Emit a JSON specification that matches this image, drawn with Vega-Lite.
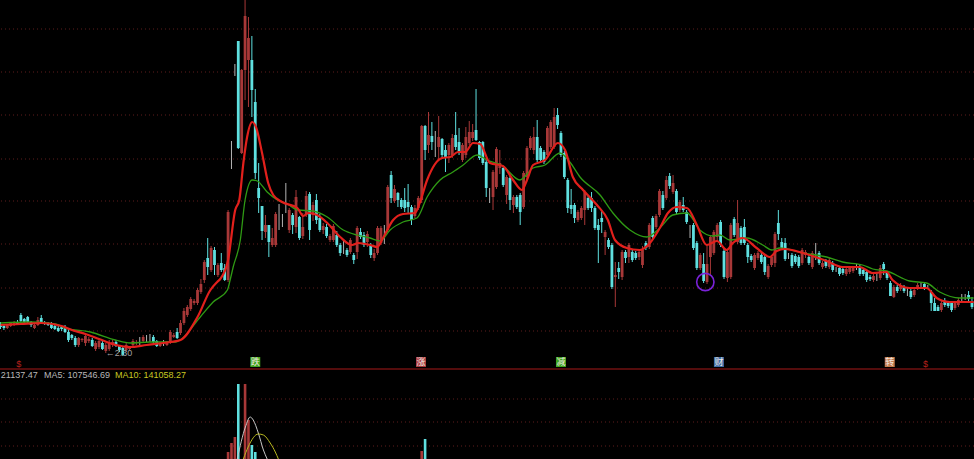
{"$schema":"https://vega.github.io/schema/vega-lite/v6.json","width":974,"height":459,"padding":0,"autosize":{"type":"none"},"background":"#000000","config":{"view":{"stroke":null}},
"datasets":{
"candles":[
{"i":0,"o":135,"c":132,"h":137,"l":130},{"i":1,"o":133,"c":131,"h":135,"l":129},{"i":2,"o":131,"c":134,"h":135,"l":130},{"i":3,"o":133,"c":136,"h":137,"l":132},{"i":4,"o":134,"c":137,"h":138,"l":133},{"i":5,"o":137,"c":135,"h":139,"l":134},{"i":6,"o":144,"c":138,"h":146,"l":137},{"i":7,"o":140,"c":137,"h":141,"l":136},{"i":8,"o":142,"c":137,"h":143,"l":136},{"i":9,"o":137,"c":134,"h":138,"l":132},
{"i":10,"o":131,"c":134,"h":135,"l":130},{"i":11,"o":134,"c":139,"h":142,"l":133},{"i":12,"o":141,"c":136,"h":144,"l":135},{"i":13,"o":137,"c":135,"h":138,"l":134},{"i":14,"o":136,"c":134,"h":137,"l":133},{"i":15,"o":135,"c":131,"h":137,"l":130},{"i":16,"o":133,"c":130,"h":134,"l":129},{"i":17,"o":131,"c":128,"h":133,"l":127},{"i":18,"o":132,"c":130,"h":133,"l":128},{"i":19,"o":132,"c":127,"h":134,"l":126},
{"i":20,"o":127,"c":119,"h":130,"l":117},{"i":21,"o":124,"c":121,"h":125,"l":119},{"i":22,"o":121,"c":114,"h":123,"l":112},{"i":23,"o":114,"c":121,"h":122,"l":112},{"i":24,"o":119,"c":120,"h":121,"l":117},{"i":25,"o":116,"c":123,"h":126,"l":113},{"i":26,"o":118,"c":120,"h":122,"l":116},{"i":27,"o":119,"c":113,"h":121,"l":112},{"i":28,"o":110,"c":116,"h":118,"l":108},{"i":29,"o":112,"c":118,"h":120,"l":110},
{"i":30,"o":116,"c":110,"h":118,"l":109},{"i":31,"o":108,"c":114,"h":116,"l":106},{"i":32,"o":110,"c":116,"h":119,"l":108},{"i":33,"o":114,"c":117,"h":119,"l":112},{"i":34,"o":117,"c":113,"h":119,"l":112},{"i":35,"o":113,"c":109,"h":114,"l":107},{"i":36,"o":111,"c":104,"h":112,"l":103},{"i":37,"o":109,"c":114,"h":116,"l":107},{"i":38,"o":110,"c":112,"h":113,"l":109},{"i":39,"o":114,"c":118,"h":120,"l":112},
{"i":40,"o":116,"c":117,"h":119,"l":114},{"i":41,"o":116,"c":116,"h":122,"l":114},{"i":42,"o":118,"c":122,"h":124,"l":116},{"i":43,"o":120,"c":120,"h":124,"l":117},{"i":44,"o":120,"c":120,"h":125,"l":117},{"i":45,"o":122,"c":117,"h":124,"l":116},{"i":46,"o":118,"c":113,"h":119,"l":112},{"i":47,"o":113,"c":116,"h":117,"l":112},{"i":48,"o":115,"c":115,"h":119,"l":113},{"i":49,"o":114,"c":118,"h":118,"l":113},
{"i":50,"o":117,"c":127,"h":129,"l":115},{"i":51,"o":122,"c":124,"h":126,"l":121},{"i":52,"o":127,"c":121,"h":131,"l":120},{"i":53,"o":126,"c":136,"h":139,"l":124},{"i":54,"o":136,"c":148,"h":151,"l":134},{"i":55,"o":144,"c":152,"h":154,"l":142},{"i":56,"o":150,"c":160,"h":162,"l":148},{"i":57,"o":156,"c":158,"h":160,"l":154},{"i":58,"o":156,"c":169,"h":171,"l":154},{"i":59,"o":167,"c":175,"h":180,"l":165},
{"i":60,"o":179,"c":197,"h":199,"l":176},{"i":61,"o":201,"c":192,"h":221,"l":184},{"i":62,"o":189,"c":211,"h":213,"l":187},{"i":63,"o":209,"c":194,"h":212,"l":184},{"i":64,"o":184,"c":194,"h":196,"l":182},{"i":65,"o":196,"c":189,"h":206,"l":187},{"i":66,"o":191,"c":179,"h":195,"l":178},{"i":67,"o":179,"c":247,"h":249,"l":177},{"i":68,"o":300,"c":300,"h":318,"l":290},{"i":69,"o":390,"c":390,"h":395,"l":383},
{"i":70,"o":418,"c":311,"h":418,"l":310},{"i":71,"o":306,"c":389,"h":390,"l":305},{"i":72,"o":389,"c":443,"h":459,"l":359},{"i":73,"o":399,"c":421,"h":442,"l":352},{"i":74,"o":399,"c":369,"h":423,"l":342},{"i":75,"o":357,"c":286,"h":370,"l":280},{"i":76,"o":271,"c":261,"h":296,"l":246},{"i":77,"o":253,"c":228,"h":253,"l":219},{"i":78,"o":227,"c":234,"h":244,"l":221},{"i":79,"o":234,"c":217,"h":234,"l":202},
{"i":80,"o":214,"c":221,"h":231,"l":212},{"i":81,"o":214,"c":245,"h":247,"l":212},{"i":82,"o":237,"c":237,"h":255,"l":229},{"i":83,"o":237,"c":237,"h":245,"l":232},{"i":84,"o":265,"c":265,"h":276,"l":246},{"i":85,"o":229,"c":249,"h":251,"l":226},{"i":86,"o":244,"c":234,"h":246,"l":225},{"i":87,"o":232,"c":262,"h":269,"l":226},{"i":88,"o":242,"c":221,"h":243,"l":219},{"i":89,"o":223,"c":232,"h":246,"l":220},
{"i":90,"o":244,"c":263,"h":268,"l":242},{"i":91,"o":265,"c":229,"h":267,"l":219},{"i":92,"o":244,"c":254,"h":257,"l":238},{"i":93,"o":259,"c":239,"h":265,"l":235},{"i":94,"o":241,"c":229,"h":245,"l":227},{"i":95,"o":229,"c":233,"h":236,"l":225},{"i":96,"o":232,"c":223,"h":235,"l":221},{"i":97,"o":219,"c":223,"h":225,"l":217},{"i":98,"o":219,"c":233,"h":235,"l":217},{"i":99,"o":224,"c":214,"h":228,"l":212},
{"i":100,"o":214,"c":206,"h":216,"l":203},{"i":101,"o":213,"c":213,"h":219,"l":205},{"i":102,"o":209,"c":204,"h":211,"l":202},{"i":103,"o":207,"c":219,"h":221,"l":205},{"i":104,"o":204,"c":199,"h":206,"l":195},{"i":105,"o":207,"c":231,"h":233,"l":200},{"i":106,"o":227,"c":222,"h":231,"l":220},{"i":107,"o":224,"c":214,"h":227,"l":212},{"i":108,"o":217,"c":225,"h":228,"l":212},{"i":109,"o":214,"c":204,"h":216,"l":201},
{"i":110,"o":201,"c":206,"h":210,"l":198},{"i":111,"o":206,"c":231,"h":233,"l":204},{"i":112,"o":216,"c":231,"h":233,"l":214},{"i":113,"o":228,"c":228,"h":234,"l":215},{"i":114,"o":229,"c":272,"h":274,"l":227},{"i":115,"o":284,"c":261,"h":288,"l":256},{"i":116,"o":258,"c":270,"h":274,"l":256},{"i":117,"o":266,"c":259,"h":267,"l":252},{"i":118,"o":259,"c":252,"h":261,"l":250},{"i":119,"o":259,"c":251,"h":271,"l":247},
{"i":120,"o":257,"c":252,"h":275,"l":246},{"i":121,"o":252,"c":239,"h":254,"l":234},{"i":122,"o":243,"c":251,"h":254,"l":241},{"i":123,"o":251,"c":261,"h":263,"l":249},{"i":124,"o":259,"c":333,"h":334,"l":256},{"i":125,"o":333,"c":309,"h":334,"l":299},{"i":126,"o":314,"c":324,"h":347,"l":306},{"i":127,"o":323,"c":317,"h":337,"l":309},{"i":128,"o":325,"c":325,"h":328,"l":302},{"i":129,"o":312,"c":322,"h":343,"l":299},
{"i":130,"o":320,"c":304,"h":321,"l":301},{"i":131,"o":309,"c":301,"h":314,"l":287},{"i":132,"o":304,"c":314,"h":316,"l":296},{"i":133,"o":304,"c":321,"h":325,"l":301},{"i":134,"o":324,"c":312,"h":347,"l":309},{"i":135,"o":317,"c":307,"h":331,"l":304},{"i":136,"o":299,"c":314,"h":316,"l":297},{"i":137,"o":304,"c":322,"h":332,"l":301},{"i":138,"o":316,"c":327,"h":338,"l":314},{"i":139,"o":321,"c":327,"h":335,"l":318},
{"i":140,"o":329,"c":319,"h":370,"l":318},{"i":141,"o":317,"c":301,"h":318,"l":299},{"i":142,"o":317,"c":296,"h":318,"l":294},{"i":143,"o":297,"c":271,"h":299,"l":262},{"i":144,"o":264,"c":264,"h":271,"l":256},{"i":145,"o":262,"c":287,"h":289,"l":249},{"i":146,"o":272,"c":310,"h":312,"l":270},{"i":147,"o":291,"c":296,"h":309,"l":285},{"i":148,"o":291,"c":274,"h":293,"l":272},{"i":149,"o":264,"c":282,"h":284,"l":255},
{"i":150,"o":281,"c":259,"h":283,"l":249},{"i":151,"o":254,"c":262,"h":264,"l":246},{"i":152,"o":262,"c":252,"h":264,"l":250},{"i":153,"o":264,"c":247,"h":266,"l":234},{"i":154,"o":252,"c":286,"h":288,"l":250},{"i":155,"o":282,"c":311,"h":313,"l":280},{"i":156,"o":311,"c":321,"h":323,"l":309},{"i":157,"o":309,"c":322,"h":332,"l":305},{"i":158,"o":322,"c":299,"h":339,"l":297},{"i":159,"o":311,"c":299,"h":313,"l":297},
{"i":160,"o":307,"c":297,"h":309,"l":295},{"i":161,"o":304,"c":331,"h":333,"l":302},{"i":162,"o":312,"c":337,"h":339,"l":310},{"i":163,"o":312,"c":342,"h":351,"l":310},{"i":164,"o":344,"c":334,"h":351,"l":330},{"i":165,"o":326,"c":304,"h":328,"l":302},{"i":166,"o":306,"c":282,"h":308,"l":280},{"i":167,"o":279,"c":251,"h":281,"l":246},{"i":168,"o":254,"c":250,"h":270,"l":245},{"i":169,"o":254,"c":241,"h":256,"l":236},
{"i":170,"o":239,"c":247,"h":249,"l":237},{"i":171,"o":241,"c":251,"h":253,"l":239},{"i":172,"o":249,"c":267,"h":269,"l":234},{"i":173,"o":261,"c":251,"h":263,"l":249},{"i":174,"o":261,"c":251,"h":267,"l":247},{"i":175,"o":251,"c":231,"h":253,"l":229},{"i":176,"o":234,"c":229,"h":240,"l":196},{"i":177,"o":241,"c":237,"h":248,"l":226},{"i":178,"o":222,"c":227,"h":229,"l":204},{"i":179,"o":219,"c":212,"h":221,"l":210},
{"i":180,"o":214,"c":172,"h":216,"l":170},{"i":181,"o":182,"c":184,"h":197,"l":152},{"i":182,"o":191,"c":187,"h":197,"l":180},{"i":183,"o":182,"c":207,"h":209,"l":179},{"i":184,"o":207,"c":201,"h":209,"l":196},{"i":185,"o":202,"c":214,"h":216,"l":196},{"i":186,"o":207,"c":199,"h":209,"l":197},{"i":187,"o":206,"c":201,"h":208,"l":199},{"i":188,"o":202,"c":207,"h":209,"l":199},{"i":189,"o":194,"c":209,"h":213,"l":191},
{"i":190,"o":216,"c":211,"h":218,"l":209},{"i":191,"o":212,"c":234,"h":236,"l":210},{"i":192,"o":241,"c":222,"h":243,"l":220},{"i":193,"o":232,"c":243,"h":245,"l":230},{"i":194,"o":244,"c":268,"h":270,"l":242},{"i":195,"o":264,"c":251,"h":268,"l":249},{"i":196,"o":261,"c":279,"h":283,"l":259},{"i":197,"o":283,"c":273,"h":286,"l":270},{"i":198,"o":267,"c":276,"h":284,"l":265},{"i":199,"o":268,"c":247,"h":270,"l":245},
{"i":200,"o":249,"c":257,"h":259,"l":247},{"i":201,"o":254,"c":249,"h":262,"l":247},{"i":202,"o":247,"c":237,"h":249,"l":235},{"i":203,"o":227,"c":227,"h":234,"l":221},{"i":204,"o":234,"c":211,"h":236,"l":209},{"i":205,"o":216,"c":191,"h":218,"l":189},{"i":206,"o":191,"c":204,"h":206,"l":189},{"i":207,"o":195,"c":178,"h":206,"l":176},{"i":208,"o":177,"c":195,"h":214,"l":175},{"i":209,"o":202,"c":222,"h":224,"l":184},
{"i":210,"o":206,"c":227,"h":229,"l":204},{"i":211,"o":222,"c":234,"h":236,"l":218},{"i":212,"o":237,"c":214,"h":239,"l":212},{"i":213,"o":208,"c":182,"h":210,"l":180},{"i":214,"o":181,"c":207,"h":209,"l":177},{"i":215,"o":182,"c":234,"h":236,"l":180},{"i":216,"o":240,"c":224,"h":242,"l":222},{"i":217,"o":217,"c":236,"h":259,"l":215},{"i":218,"o":231,"c":216,"h":233,"l":214},{"i":219,"o":232,"c":216,"h":240,"l":214},
{"i":220,"o":214,"c":202,"h":216,"l":196},{"i":221,"o":203,"c":199,"h":205,"l":197},{"i":222,"o":191,"c":204,"h":206,"l":189},{"i":223,"o":201,"c":206,"h":208,"l":199},{"i":224,"o":204,"c":197,"h":206,"l":195},{"i":225,"o":202,"c":187,"h":204,"l":184},{"i":226,"o":182,"c":193,"h":195,"l":180},{"i":227,"o":194,"c":202,"h":204,"l":192},{"i":228,"o":196,"c":225,"h":227,"l":192},{"i":229,"o":236,"c":225,"h":249,"l":219},
{"i":230,"o":217,"c":211,"h":221,"l":209},{"i":231,"o":216,"c":200,"h":221,"l":198},{"i":232,"o":204,"c":204,"h":206,"l":200},{"i":233,"o":204,"c":193,"h":206,"l":191},{"i":234,"o":203,"c":197,"h":205,"l":195},{"i":235,"o":202,"c":193,"h":204,"l":191},{"i":236,"o":196,"c":209,"h":211,"l":194},{"i":237,"o":204,"c":207,"h":209,"l":201},{"i":238,"o":202,"c":196,"h":204,"l":194},{"i":239,"o":192,"c":206,"h":208,"l":190},
{"i":240,"o":208,"c":208,"h":216,"l":199},{"i":241,"o":206,"c":196,"h":208,"l":194},{"i":242,"o":192,"c":196,"h":198,"l":190},{"i":243,"o":198,"c":193,"h":200,"l":191},{"i":244,"o":192,"c":199,"h":201,"l":190},{"i":245,"o":196,"c":189,"h":198,"l":187},{"i":246,"o":189,"c":189,"h":192,"l":187},{"i":247,"o":191,"c":185,"h":193,"l":183},{"i":248,"o":190,"c":186,"h":192,"l":184},{"i":249,"o":185,"c":190,"h":192,"l":183},
{"i":250,"o":187,"c":191,"h":193,"l":185},{"i":251,"o":188,"c":191,"h":193,"l":186},{"i":252,"o":192,"c":192,"h":195,"l":189},{"i":253,"o":192,"c":185,"h":194,"l":183},{"i":254,"o":189,"c":185,"h":191,"l":183},{"i":255,"o":187,"c":179,"h":189,"l":177},{"i":256,"o":182,"c":180,"h":184,"l":178},{"i":257,"o":179,"c":183,"h":185,"l":177},{"i":258,"o":182,"c":182,"h":186,"l":178},{"i":259,"o":181,"c":191,"h":194,"l":179},
{"i":260,"o":195,"c":190,"h":197,"l":184},{"i":261,"o":186,"c":181,"h":188,"l":179},{"i":262,"o":176,"c":163,"h":178,"l":163},{"i":263,"o":162,"c":172,"h":174,"l":161},{"i":264,"o":172,"c":168,"h":174,"l":166},{"i":265,"o":170,"c":174,"h":176,"l":168},{"i":266,"o":172,"c":168,"h":174,"l":166},{"i":267,"o":167,"c":167,"h":171,"l":163},{"i":268,"o":168,"c":162,"h":170,"l":160},{"i":269,"o":164,"c":169,"h":171,"l":162},
{"i":270,"o":171,"c":174,"h":176,"l":169},{"i":271,"o":174,"c":174,"h":177,"l":171},{"i":272,"o":175,"c":171,"h":177,"l":169},{"i":273,"o":172,"c":172,"h":174,"l":170},{"i":274,"o":167,"c":156,"h":169,"l":148},{"i":275,"o":156,"c":148,"h":161,"l":148},{"i":276,"o":152,"c":148,"h":154,"l":148},{"i":277,"o":149,"c":156,"h":158,"l":147},{"i":278,"o":157,"c":154,"h":161,"l":152},{"i":279,"o":156,"c":153,"h":158,"l":151},
{"i":280,"o":156,"c":149,"h":158,"l":147},{"i":281,"o":151,"c":156,"h":158,"l":149},{"i":282,"o":154,"c":159,"h":161,"l":152},{"i":283,"o":160,"c":160,"h":165,"l":157},{"i":284,"o":162,"c":162,"h":165,"l":159},{"i":285,"o":164,"c":160,"h":168,"l":158},{"i":286,"o":157,"c":152,"h":162,"l":150}
],
"ma5":[{"i":0,"v":134},{"i":6,"v":135},{"i":12,"v":136},{"i":18,"v":133},{"i":21,"v":129},{"i":25,"v":125},{"i":29,"v":120},{"i":34,"v":114},{"i":38,"v":112},{"i":43,"v":114},{"i":50,"v":117},{"i":53,"v":119},{"i":58,"v":142},{"i":61.8,"v":169},{"i":63.8,"v":177},{"i":64.7,"v":180},{"i":67,"v":199},{"i":69.1,"v":249},{"i":70.3,"v":259},{"i":71.5,"v":296},{"i":72.6,"v":322},{"i":74.1,"v":337},{"i":75.3,"v":331},{"i":77,"v":306},{"i":78.8,"v":276},{"i":80.3,"v":264},{"i":82.9,"v":257},{"i":87.4,"v":251},{"i":89.1,"v":243},{"i":90.6,"v":246},{"i":93.2,"v":244},{"i":96.2,"v":236},{"i":100,"v":222},{"i":103.5,"v":214},{"i":105.3,"v":216},{"i":108.8,"v":214},{"i":110.9,"v":212},{"i":112.6,"v":221},{"i":115.6,"v":239},{"i":118.5,"v":245},{"i":122,"v":246},{"i":123.5,"v":257},{"i":125.6,"v":279},{"i":130,"v":301},{"i":132.4,"v":302},{"i":134.7,"v":307},{"i":136.8,"v":307},{"i":139.1,"v":316},{"i":141.2,"v":315},{"i":144.1,"v":296},{"i":147.9,"v":293},{"i":150.9,"v":279},{"i":153.5,"v":269},{"i":155,"v":279},{"i":156.8,"v":294},{"i":160.3,"v":299},{"i":164.1,"v":316},{"i":166.2,"v":309},{"i":168.5,"v":282},{"i":171.5,"v":269},{"i":175.6,"v":254},{"i":178.8,"v":239},{"i":180.9,"v":219},{"i":184.4,"v":211},{"i":188.2,"v":209},{"i":191.2,"v":216},{"i":194.1,"v":231},{"i":196.5,"v":246},{"i":199.1,"v":252},{"i":202.1,"v":251},{"i":205,"v":234},{"i":207.9,"v":214},{"i":210.9,"v":218},{"i":213.8,"v":209},{"i":215.6,"v":216},{"i":218.5,"v":221},{"i":222.6,"v":211},{"i":226.5,"v":202},{"i":228.5,"v":208},{"i":230.9,"v":210},{"i":236.2,"v":206},{"i":243.2,"v":198},{"i":247.9,"v":192},{"i":252.9,"v":192},{"i":256.8,"v":186},{"i":260.9,"v":187},{"i":262.6,"v":179},{"i":267.6,"v":171},{"i":272.6,"v":171},{"i":275.6,"v":161},{"i":279.4,"v":157},{"i":286.5,"v":157}],
"ma10":[{"i":0,"v":136},{"i":8.8,"v":137},{"i":16.2,"v":135},{"i":19,"v":131},{"i":26.5,"v":127},{"i":33.8,"v":119},{"i":38.2,"v":116},{"i":44,"v":117},{"i":51.5,"v":117},{"i":52.9,"v":119},{"i":58.8,"v":142},{"i":62.6,"v":157},{"i":66.8,"v":169},{"i":67.6,"v":179},{"i":68.5,"v":192},{"i":70.6,"v":219},{"i":72,"v":259},{"i":74.1,"v":279},{"i":75.6,"v":278},{"i":78.5,"v":267},{"i":81.5,"v":259},{"i":84.4,"v":255},{"i":87.6,"v":249},{"i":92,"v":248},{"i":96.2,"v":242},{"i":100.9,"v":229},{"i":105,"v":224},{"i":108.8,"v":221},{"i":111.8,"v":218},{"i":114.7,"v":229},{"i":118.5,"v":237},{"i":122.6,"v":241},{"i":125.6,"v":262},{"i":129.4,"v":279},{"i":133.2,"v":287},{"i":136.2,"v":294},{"i":140.3,"v":304},{"i":143.2,"v":299},{"i":147.9,"v":293},{"i":152.9,"v":279},{"i":156.8,"v":291},{"i":160.3,"v":294},{"i":164.7,"v":306},{"i":167.6,"v":297},{"i":170.6,"v":282},{"i":176.5,"v":264},{"i":180.3,"v":246},{"i":185.3,"v":229},{"i":190.3,"v":222},{"i":194.1,"v":231},{"i":197.9,"v":244},{"i":202.1,"v":246},{"i":205.9,"v":229},{"i":209.7,"v":223},{"i":211.8,"v":224},{"i":214.7,"v":219},{"i":219.7,"v":221},{"i":224.4,"v":214},{"i":227.1,"v":209},{"i":229.4,"v":211},{"i":236.2,"v":206},{"i":243.2,"v":202},{"i":247.9,"v":197},{"i":253.8,"v":194},{"i":256.8,"v":190},{"i":260.9,"v":188},{"i":267.6,"v":178},{"i":272.6,"v":176},{"i":276.5,"v":167},{"i":282.4,"v":161},{"i":286.5,"v":161}],
"vol":[{"i":67,"q":7,"d":"up"},{"i":68,"q":16,"d":"up"},{"i":69,"q":22,"d":"up"},{"i":70,"q":75,"d":"down"},{"i":72,"q":75,"d":"up"},{"i":73,"q":39,"d":"up"},{"i":74,"q":14,"d":"down"},{"i":75,"q":7,"d":"down"},{"i":124,"q":8,"d":"up"},{"i":125,"q":20,"d":"down"}],
"volma":[{"i":69.7,"q":0,"s":"MA5"},{"i":72.1,"q":32,"s":"MA5"},{"i":73.5,"q":42,"s":"MA5"},{"i":74.4,"q":39,"s":"MA5"},{"i":75.9,"q":26,"s":"MA5"},{"i":77.4,"q":9,"s":"MA5"},{"i":78.5,"q":0,"s":"MA5"},{"i":71.5,"q":0,"s":"MA10"},{"i":72.9,"q":12,"s":"MA10"},{"i":75.9,"q":25,"s":"MA10"},{"i":77.4,"q":24,"s":"MA10"},{"i":79.4,"q":16,"s":"MA10"},{"i":80.9,"q":7,"s":"MA10"},{"i":81.8,"q":0,"s":"MA10"}],
"grid":[{"v":430},{"v":387},{"v":344},{"v":300},{"v":258},{"v":215},{"v":171},{"v":128},{"v":60},{"v":37},{"v":13}],
"signs":[{"i":75,"v":97,"t":"跌","k":"g"},{"i":123.8,"v":97,"t":"涨","k":"r"},{"i":165,"v":97,"t":"减","k":"g"},{"i":211.5,"v":97,"t":"财","k":"b"},{"i":261.8,"v":97,"t":"转","k":"o"}],
"notes":[{"i":0.1,"v":84,"t":"21137.47","k":"w"},{"i":12.8,"v":84,"t":"MA5: 107546.69","k":"w"},{"i":33.7,"v":84,"t":"MA10: 141058.27","k":"y"},{"i":31,"v":106,"t":"←2.30","k":"a"},{"i":4.6,"v":95,"t":"$","k":"r"},{"i":271.6,"v":95,"t":"$","k":"r"}],
"circle":[{"i":207.5,"v":177}]
},
"resolve":{"scale":{"color":"independent"}},
"layer":[
{"data":{"name":"grid"},"mark":{"type":"rule","color":"#5e1c1c","strokeWidth":1,"strokeDash":[1,3]},"encoding":{"y":{"field":"v","type":"quantitative","scale":{"domain":[0,459]},"axis":null}}},
{"data":{"values":[{"v":90}]},"mark":{"type":"rule","color":"#701010","strokeWidth":1.5},"encoding":{"y":{"field":"v","type":"quantitative","scale":{"domain":[0,459]},"axis":null}}},
{"data":{"name":"candles"},"mark":{"type":"rule","strokeWidth":1},"encoding":{"x":{"field":"i","type":"quantitative","scale":{"domain":[-0.15,286.6],"padding":0},"axis":null},"y":{"field":"l","type":"quantitative","scale":{"domain":[0,459]},"axis":null},"y2":{"field":"h"},"color":{"condition":[{"test":"datum.c===datum.o","value":"#b4b4b4"},{"test":"datum.c>datum.o","value":"#a83838"}],"value":"#5fe0e0"}}},
{"data":{"name":"candles"},"mark":{"type":"bar","size":2.8,"orient":"vertical"},"encoding":{"x":{"field":"i","type":"quantitative","scale":{"domain":[-0.15,286.6],"padding":0},"axis":null},"y":{"field":"o","type":"quantitative","scale":{"domain":[0,459]},"axis":null},"y2":{"field":"c"},"color":{"condition":[{"test":"datum.c===datum.o","value":"#b4b4b4"},{"test":"datum.c>datum.o","value":"#a83838"}],"value":"#5fe0e0"}}},
{"data":{"name":"ma10"},"mark":{"type":"line","color":"#2f9a14","strokeWidth":1.3,"interpolate":"monotone"},"encoding":{"x":{"field":"i","type":"quantitative","scale":{"domain":[-0.15,286.6],"padding":0},"axis":null},"y":{"field":"v","type":"quantitative","scale":{"domain":[0,459]},"axis":null}}},
{"data":{"name":"ma5"},"mark":{"type":"line","color":"#e2201c","strokeWidth":2.2,"interpolate":"monotone"},"encoding":{"x":{"field":"i","type":"quantitative","scale":{"domain":[-0.15,286.6],"padding":0},"axis":null},"y":{"field":"v","type":"quantitative","scale":{"domain":[0,459]},"axis":null}}},
{"data":{"name":"vol"},"mark":{"type":"bar","size":2.6,"orient":"vertical"},"encoding":{"x":{"field":"i","type":"quantitative","scale":{"domain":[-0.15,286.6],"padding":0},"axis":null},"y":{"field":"q","type":"quantitative","scale":{"domain":[0,459]},"axis":null},"y2":{"datum":0},"color":{"condition":{"test":"datum.d==='up'","value":"#a83838"},"value":"#5fe0e0"}}},
{"data":{"name":"volma"},"mark":{"type":"line","strokeWidth":1,"interpolate":"monotone"},"encoding":{"x":{"field":"i","type":"quantitative","scale":{"domain":[-0.15,286.6],"padding":0},"axis":null},"y":{"field":"q","type":"quantitative","scale":{"domain":[0,459]},"axis":null},"color":{"field":"s","type":"nominal","legend":null,"scale":{"domain":["MA5","MA10"],"range":["#c8c8c8","#b8b820"]}}}},
{"data":{"name":"circle"},"mark":{"type":"point","shape":"circle","size":300,"filled":false,"stroke":"#7a22d8","strokeWidth":1.6,"opacity":1},"encoding":{"x":{"field":"i","type":"quantitative","scale":{"domain":[-0.15,286.6],"padding":0},"axis":null},"y":{"field":"v","type":"quantitative","scale":{"domain":[0,459]},"axis":null}}},
{"data":{"name":"signs"},"mark":{"type":"square","size":100,"opacity":1},"encoding":{"x":{"field":"i","type":"quantitative","scale":{"domain":[-0.15,286.6],"padding":0},"axis":null},"y":{"field":"v","type":"quantitative","scale":{"domain":[0,459]},"axis":null},"color":{"field":"k","type":"nominal","legend":null,"scale":{"domain":["g","r","b","o"],"range":["#3fa51e","#a83a3e","#3f6da8","#c27a4c"]}}}},
{"data":{"name":"signs"},"mark":{"type":"text","font":"Noto Sans CJK SC","fontSize":9,"color":"#f0e8e0","align":"center","baseline":"middle"},"encoding":{"x":{"field":"i","type":"quantitative","scale":{"domain":[-0.15,286.6],"padding":0},"axis":null},"y":{"field":"v","type":"quantitative","scale":{"domain":[0,459]},"axis":null},"text":{"field":"t"}}},
{"data":{"name":"notes"},"mark":{"type":"text","font":"Liberation Sans","fontSize":9,"align":"left","baseline":"middle"},"encoding":{"x":{"field":"i","type":"quantitative","scale":{"domain":[-0.15,286.6],"padding":0},"axis":null},"y":{"field":"v","type":"quantitative","scale":{"domain":[0,459]},"axis":null},"text":{"field":"t"},"color":{"field":"k","type":"nominal","legend":null,"scale":{"domain":["w","y","a","r"],"range":["#b8b8b8","#c8c820","#a0a0a0","#b8201c"]}}}}
]}
